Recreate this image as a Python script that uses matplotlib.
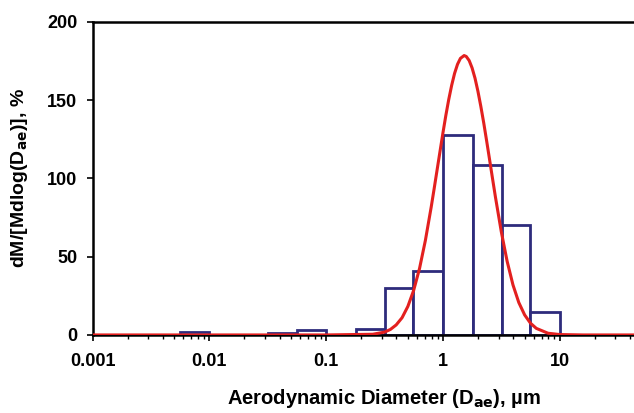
import matplotlib.pyplot as plt
import numpy as np

plt.rcParams["font.family"] = ["Liberation Sans", "DejaVu Sans"]
plt.rcParams["font.weight"] = "bold"

# impactor stage edges (um) and mass fraction per stage
bin_edges = [0.0056, 0.01, 0.018, 0.032, 0.056, 0.1, 0.18, 0.32, 0.56, 1.0, 1.8, 3.2, 5.6, 10.0]
bin_vals = [2, 0, 0, 1.5, 3, 0, 3.8, 30.3, 41, 128, 108.5, 70, 14.5]

# fitted lognormal
fit_d = [0.001, 0.1, 0.251, 0.316, 0.355, 0.398, 0.447, 0.501, 0.562, 0.631, 0.708,
         0.794, 0.841, 0.891, 0.944, 1.0, 1.059, 1.122, 1.189, 1.259, 1.334, 1.413,
         1.52, 1.585, 1.679, 1.778, 1.884, 1.995, 2.113, 2.239, 2.371, 2.512, 2.661,
         2.818, 3.162, 3.548, 3.981, 4.467, 5.012, 5.623, 6.310, 7.943, 10.0, 15.85, 45.0]
fit_y = [0, 0, 0.44, 1.8, 3.5, 6.4, 11.0, 18.2, 28.5, 42.5, 60.4,
         81.7, 93.3, 105.2, 117.1, 128.9, 140.1, 150.4, 159.5, 167.1, 172.9, 176.7,
         178.5, 177.9, 175.3, 170.6, 164.0, 155.7, 146.0, 135.3, 123.8, 111.9, 99.9,
         88.1, 66.0, 47.1, 32.0, 20.7, 12.8, 7.5, 4.2, 1.1, 0.25, 0, 0]

x_ticks = [0.001, 0.01, 0.1, 1, 10]
x_labels = ["0.001", "0.01", "0.1", "1", "10"]
y_ticks = [0, 50, 100, 150, 200]

fig = plt.figure(figsize=(6.34, 4.13), dpi=100)
ax = fig.add_axes([0.146, 0.189, 0.854, 0.758])

edges = np.array(bin_edges)
ax.bar(edges[:-1], bin_vals, width=np.diff(edges), align="edge",
       facecolor="white", edgecolor="#2e2b7c", linewidth=2.0, zorder=2)
ax.plot(fit_d, fit_y, color="#e3201f", linewidth=2.2, zorder=3)

ax.set_xscale("log")
ax.set_xlim(0.001, 43.3)
ax.set_ylim(0, 200)
ax.set_xticks(x_ticks)
ax.set_xticklabels(x_labels)
ax.set_yticks(y_ticks)

for side in ["left", "top", "bottom"]:
    ax.spines[side].set_linewidth(1.8)
    ax.spines[side].set_color("black")
ax.spines["right"].set_visible(False)

ax.tick_params(axis="both", which="major", direction="out", length=4, width=1.2,
               labelsize=13)
ax.tick_params(axis="y", which="major", pad=7)
ax.tick_params(axis="x", which="minor", direction="out", length=3, width=1.0)
ax.tick_params(axis="x", which="major", pad=9)

ax.set_xlabel(r"Aerodynamic Diameter (D$_{\mathbf{ae}}$), µm", fontsize=14.5,
              fontweight="bold")
ax.xaxis.set_label_coords(0.539, -0.165)
ax.set_ylabel(r"dM/[Mdlog(D$_{\mathbf{ae}}$)], %", fontsize=14,
              fontweight="bold", labelpad=12)

plt.savefig("out.png", dpi=100)
plt.close()
